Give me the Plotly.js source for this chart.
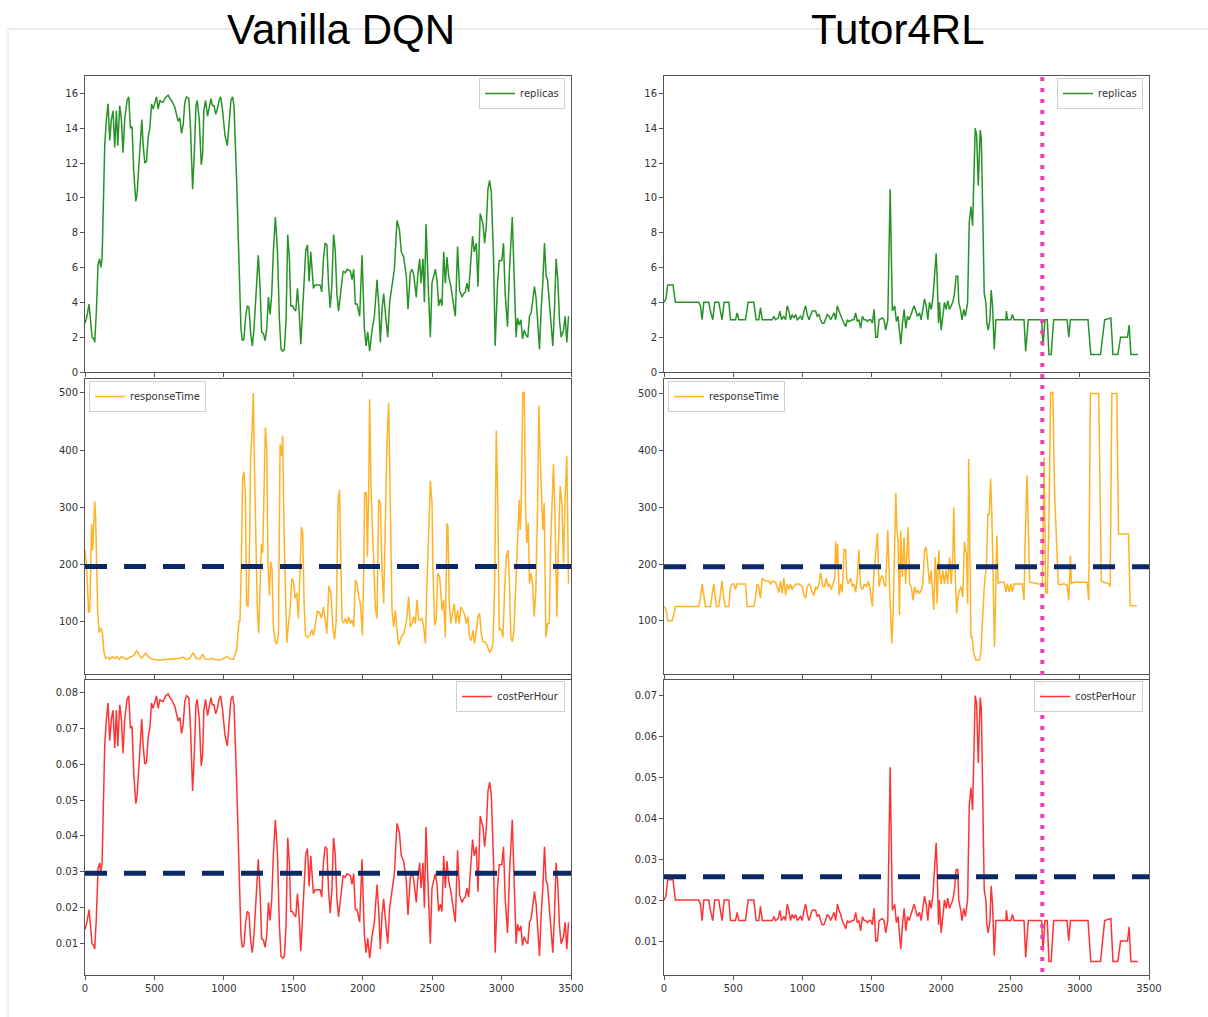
<!DOCTYPE html>
<html><head><meta charset="utf-8">
<script src="https://cdn.plot.ly/plotly-3.0.1.min.js"></script>
<style>html,body{margin:0;padding:0;background:#fff;}#chart{width:1208px;height:1017px;}</style>
</head><body><div id="chart"></div>
<script>
const panelTitles = ["Vanilla DQN", "Tutor4RL"];
const seriesNames = ["replicas", "responseTime", "costPerHour"];
const xTicks = [0,500,1000,1500,2000,2500,3000,3500];
const repTicks = [0,2,4,6,8,10,12,14,16];
const rtTicks = [100,200,300,400,500];
const costTicksLeft = [0.01,0.02,0.03,0.04,0.05,0.06,0.07,0.08];
const costTicksRight = [0.01,0.02,0.03,0.04,0.05,0.06,0.07];
const thresholds = {rtLeft:196, rtRight:195, costLeft:0.0296, costRight:0.0257};
const tutorSwitchStep = 2730;

const leftRepX = [0,14,29,38,51,63,70,82,94,106,
113,123,132,142,154,166,178,190,202,214,
226,236,250,262,274,286,303,315,327,339,
351,366,375,395,409,419,431,443,455,467,
479,491,503,515,527,539,551,563,582,599,
611,623,635,647,659,671,683,695,707,719,
731,748,760,775,787,799,808,823,837,847,
856,868,883,895,907,917,929,941,953,965,
977,991,1008,1025,1039,1051,1063,1073,1092,1109,
1123,1133,1145,1157,1169,1181,1193,1205,1217,1232,
1248,1260,1272,1285,1297,1309,1321,1333,1345,1357,
1371,1386,1400,1412,1424,1436,1448,1460,1472,1482,
1494,1506,1518,1530,1542,1554,1566,1578,1590,1602,
1614,1626,1633,1645,1657,1669,1693,1705,1717,1729,
1742,1754,1766,1778,1790,1802,1814,1826,1859,1875,
1887,1911,1923,1935,1947,1959,1978,1995,2012,2024,
2036,2050,2067,2084,2103,2115,2127,2139,2151,2163,
2180,2194,2211,2228,2247,2264,2278,2295,2314,2326,
2343,2355,2367,2386,2396,2410,2420,2434,2444,2456,
2475,2487,2499,2523,2535,2547,2559,2571,2583,2595,
2607,2619,2635,2650,2667,2683,2698,2715,2727,2739,
2751,2763,2775,2791,2803,2818,2830,2846,2866,2878,
2890,2902,2914,2926,2942,2954,2971,2983,3002,3014,
3026,3043,3057,3077,3093,3105,3115,3127,3139,3151,
3163,3177,3189,3201,3213,3225,3237,3249,3259,3273,
3285,3297,3309,3321,3331,3345,3357,3369,3381,3393,
3405,3417,3429,3446,3458,3470,3482];
const leftRepY = [2.8,3.2,3.9,3.2,2.0,1.9,1.7,3.5,6.2,6.5,
6.0,6.5,9,13,14.5,15.4,13.3,14.5,15.0,12.9,
15.0,13.0,15.3,14.5,12.6,14.5,15.6,15.8,14.0,14.1,
11.5,9.8,10.2,12.5,14.5,13,12.0,12.1,13.5,14.0,
15.4,15.1,15.5,15.8,15.1,15.6,15.5,15.5,15.8,15.9,
15.7,15.6,15.4,15.2,14.8,14.4,14.6,13.7,14.2,15.5,
15.8,15.7,14.0,10.5,12.5,15.3,15.6,14.5,11.9,12.5,
15.0,15.6,14.7,15.2,15.7,15.3,15.3,14.8,15.1,15.6,
15.8,15.0,13.6,13.0,14.4,15.6,15.8,15.3,11,6,
2.5,1.8,1.9,3.2,3.8,3.7,2.2,1.5,2.5,4.5,
6.7,5,2.3,2.2,1.8,2.5,4.3,3.3,4.5,7,
8.9,7,3,1.3,1.2,1.3,3,7.9,6.5,3.8,
3.8,3.6,3.5,4.8,3.5,1.6,3.2,5.5,7.0,7.3,
5.2,6.9,6.0,4.8,5.0,5.0,5.0,4.6,6.5,7.4,
7.3,5,3.7,5,7.9,7,4.5,3.5,5.8,5.7,
5.9,5.8,5.3,5.9,3.9,3.9,3.2,6.7,2.5,1.5,
2.3,1.2,2.4,3.2,5.3,3.9,1.7,3.6,4.5,3.4,
2.0,4.0,4.9,5.9,8.7,8.2,6.9,6.6,5.5,3.6,
5.7,5.9,5.6,4.3,5.5,6.5,5.1,6.5,4.0,8.5,
4.3,2.0,5.1,5.9,5.3,3.8,4.2,3.8,6.9,5.1,
6.6,5.5,4.9,4.0,3.2,7.2,4.7,4.3,4.5,4.6,
5.1,4.6,6.3,7.8,6.9,7.4,4.9,9.1,8.5,7.4,
8.4,10.5,11.0,10.3,6.6,1.5,5.1,6.4,6.4,7.4,
4.5,2.6,5.9,8.9,4.9,2.0,3.1,2.7,3.0,1.9,
2.4,2.1,2.0,3.2,3.4,4.2,4.9,4.2,2.8,1.3,
3.6,5.1,7.4,5.5,5.3,4.0,2.4,1.5,3.6,6.5,
5.3,3.0,2.0,2.4,3.2,1.7,3.2];
const leftCostY = [0.014,0.016,0.0195,0.016,0.01,0.0095,0.0085,0.0175,0.031,0.0325,
0.03,0.0325,0.045,0.065,0.0725,0.077,0.0665,0.0725,0.075,0.0645,
0.075,0.065,0.0765,0.0725,0.063,0.0725,0.078,0.079,0.07,0.0705,
0.0575,0.049,0.051,0.0625,0.0725,0.065,0.06,0.0605,0.0675,0.07,
0.077,0.0755,0.0775,0.079,0.0755,0.078,0.0775,0.0775,0.079,0.0795,
0.0785,0.078,0.077,0.076,0.074,0.072,0.073,0.0685,0.071,0.0775,
0.079,0.0785,0.07,0.0525,0.0625,0.0765,0.078,0.0725,0.0595,0.0625,
0.075,0.078,0.0735,0.076,0.0785,0.0765,0.0765,0.074,0.0755,0.078,
0.079,0.075,0.068,0.065,0.072,0.078,0.079,0.0765,0.055,0.03,
0.0125,0.009,0.0095,0.016,0.019,0.0185,0.011,0.0075,0.0125,0.0225,
0.0335,0.025,0.0115,0.011,0.009,0.0125,0.0215,0.0165,0.0225,0.035,
0.0445,0.035,0.015,0.0065,0.006,0.0065,0.015,0.0395,0.0325,0.019,
0.019,0.018,0.0175,0.024,0.0175,0.008,0.016,0.0275,0.035,0.0365,
0.026,0.0345,0.03,0.024,0.025,0.025,0.025,0.023,0.0325,0.037,
0.0365,0.025,0.0185,0.025,0.0395,0.035,0.0225,0.0175,0.029,0.0285,
0.0295,0.029,0.0265,0.0295,0.0195,0.0195,0.016,0.0335,0.0125,0.0075,
0.0115,0.006,0.012,0.016,0.0265,0.0195,0.0085,0.018,0.0225,0.017,
0.01,0.02,0.0245,0.0295,0.0435,0.041,0.0345,0.033,0.0275,0.018,
0.0285,0.0295,0.028,0.0215,0.0275,0.0325,0.0255,0.0325,0.02,0.0425,
0.0215,0.01,0.0255,0.0295,0.0265,0.019,0.021,0.019,0.0345,0.0255,
0.033,0.0275,0.0245,0.02,0.016,0.036,0.0235,0.0215,0.0225,0.023,
0.0255,0.023,0.0315,0.039,0.0345,0.037,0.0245,0.0455,0.0425,0.037,
0.042,0.0525,0.055,0.0515,0.033,0.0075,0.0255,0.032,0.032,0.037,
0.0225,0.013,0.0295,0.0445,0.0245,0.01,0.0155,0.0135,0.015,0.0095,
0.012,0.0105,0.01,0.016,0.017,0.021,0.0245,0.021,0.014,0.0065,
0.018,0.0255,0.037,0.0275,0.0265,0.02,0.012,0.0075,0.018,0.0325,
0.0265,0.015,0.01,0.012,0.016,0.0085,0.016];

const leftRtX = [0,10,17,26,34,41,48,55,63,70,
77,84,91,101,113,125,137,149,166,178,
197,214,231,245,262,279,298,318,334,351,
370,390,407,423,438,455,479,503,539,587,
635,683,707,731,755,779,799,827,847,864,
888,912,948,984,1020,1044,1068,1092,1109,1116,
1126,1135,1145,1155,1164,1174,1183,1193,1203,1212,
1222,1232,1241,1251,1260,1270,1280,1289,1299,1309,
1318,1328,1337,1347,1357,1369,1381,1393,1405,1414,
1424,1434,1443,1453,1465,1477,1489,1501,1513,1525,
1537,1549,1559,1568,1578,1588,1602,1617,1633,1645,
1660,1674,1689,1703,1717,1730,1742,1756,1770,1785,
1797,1809,1823,1833,
1851,1863,1875,1887,1899,1911,1923,1935,1947,1959,
1971,1983,1998,2007,2014,2026,2034,2043,2050,2060,
2070,2079,2091,2103,2115,2127,2139,2151,2163,2175,
2187,2199,2211,2223,2235,2247,2259,2271,2283,2295,
2307,2319,2331,2343,2355,2367,2379,2391,2403,2415,
2427,2439,2451,2463,2475,2487,2499,2506,2518,2530,
2540,2554,2571,2583,2595,2607,2614,2623,2635,2650,
2659,2671,2683,2695,2707,2719,2731,2746,2758,2770,
2782,2794,2806,2818,2830,2842,2854,2866,2878,2890,
2902,2914,2926,2938,2950,2962,2974,2983,2995,3010,
3022,3034,3046,3057,3067,3077,3089,3103,3115,3127,
3134,3141,3153,3163,3173,3182,3192,3201,3211,3223,
3235,3247,3259,3269,3278,3288,3297,3307,3319,3331,
3343,3355,3364,3374,3386,3398,3410,3422,3434,3446,
3458,3470,3482];
const leftRtY = [225,200,165,115,118,200,270,225,260,310,
280,190,120,80,88,80,45,35,37,33,
38,35,38,33,38,36,33,36,38,40,
48,42,35,40,44,38,34,33,32,33,
34,35,37,33,35,45,35,34,42,34,
33,35,32,33,38,34,33,50,100,100,
200,350,362,320,130,125,200,390,430,500,
350,200,120,80,150,235,220,330,440,400,
200,145,205,190,90,65,60,75,410,390,
425,250,150,62,95,120,175,170,140,150,
105,190,265,255,130,75,72,75,85,75,
100,118,115,105,125,100,78,162,150,90,
68,100,310,330,
102,96,105,96,108,96,102,90,172,166,
143,131,75,190,325,325,213,331,489,331,
254,178,125,105,313,307,190,131,296,413,
483,307,119,90,119,84,58,67,75,78,
90,108,143,90,96,108,96,137,102,102,
105,90,61,166,266,346,307,190,93,102,
184,178,119,137,72,272,266,131,96,114,
131,96,119,96,125,119,114,96,108,72,
66,84,61,84,108,114,78,64,64,61,
52,46,49,61,160,434,290,84,87,72,
155,213,225,166,72,64,84,166,237,313,
260,302,501,501,296,237,272,166,184,166,
108,155,296,478,389,307,260,307,72,96,
96,249,307,375,272,108,237,337,307,202,
319,389,166];

const rightRepX = [0,14,27,65,82,251,263,275,287,323,
335,352,366,395,407,419,434,468,480,516,
528,540,588,607,648,665,684,696,709,733,
781,793,805,824,836,848,865,877,889,901,
913,925,937,950,962,986,998,1010,1022,1034,
1046,1070,1094,1106,1118,1130,1142,1154,1166,1178,
1191,1203,1215,1227,1239,1251,1263,1275,1287,1299,
1311,1323,1335,1359,1371,1383,1395,1407,1419,1432,
1444,1456,1468,1480,1492,1504,1516,1528,1540,1552,
1576,1588,1600,1615,1632,1648,1665,1677,1689,1697,
1709,1721,1733,1745,1757,1769,1788,1805,1817,1829,
1844,1856,1868,1880,1892,1904,1916,1928,1940,1952,
1964,1971,1981,1988,2000,2012,2024,2036,2048,2060,
2072,2084,2096,2108,2120,2127,2139,2151,2163,2175,
2191,2203,2215,2227,2246,2256,2268,2282,2290,2299,
2311,2323,2330,2340,2352,2361,2371,2383,2395,2467,
2471,2479,2503,2514,2526,2598,2610,2629,2725,2735,
2749,2766,2778,2794,2812,2909,2921,2933,3060,3080,
3150,3180,3225,3240,3275,3295,3345,3357,3369,3420];
const rightRepY = [4,4.2,5,5,4,4,3.8,3,4,4,
3.5,3,4,4,3.5,3,4,4,3,3,
3.4,3,3,4,4,3,3,3.7,3,3,
3,3.2,3,3.1,3.5,3,3.2,3,3.8,3.5,
3,3.3,3.1,3.3,3,3.2,3,3.5,3.8,3.3,
3,3.5,3.5,3.2,3.3,3,2.8,2.8,3,3.3,
3.2,3,3.2,3.4,3,3.8,3.5,3.3,3,2.8,
2.6,3,2.9,3,3,3.4,2.9,3,2.5,3.2,
3,3,2.9,3,3,2.8,3.6,2,2,3,
3.1,3,2.4,3,10.5,3.5,3.8,2.9,3.2,2.5,
1.6,2.8,3.6,2.5,3.2,3,3.4,3.8,3.5,3.2,
3.4,3,3.6,4.2,3.8,3,4,3.6,4.2,5.5,
6.8,5.5,2.8,4,2.4,3.2,4,3.6,4.1,3.6,
3.8,4,4.5,5.5,5.5,4,3.6,3,3.6,3.2,
4,8.6,9.5,8.4,14,13.6,10.7,13.9,13.4,8.8,
4.5,4,2.8,2.4,3,4.7,3.8,1.3,3,3,
3.5,3,3,3.3,3,3,1.2,3,3,1.5,
3,3,1,1,3,3,2,3,3,1,
1,3,3.1,1,1,2,2,2.7,1,1];
const rightCostY = [0.02,0.021,0.025,0.025,0.02,0.02,0.019,0.015,0.02,0.02,
0.0175,0.015,0.02,0.02,0.0175,0.015,0.02,0.02,0.015,0.015,
0.017,0.015,0.015,0.02,0.02,0.015,0.015,0.0185,0.015,0.015,
0.015,0.016,0.015,0.0155,0.0175,0.015,0.016,0.015,0.019,0.0175,
0.015,0.0165,0.0155,0.0165,0.015,0.016,0.015,0.0175,0.019,0.0165,
0.015,0.0175,0.0175,0.016,0.0165,0.015,0.014,0.014,0.015,0.0165,
0.016,0.015,0.016,0.017,0.015,0.019,0.0175,0.0165,0.015,0.014,
0.013,0.015,0.0145,0.015,0.015,0.017,0.0145,0.015,0.0125,0.016,
0.015,0.015,0.0145,0.015,0.015,0.014,0.018,0.01,0.01,0.015,
0.0155,0.015,0.012,0.015,0.0525,0.0175,0.019,0.0145,0.016,0.0125,
0.008,0.014,0.018,0.0125,0.016,0.015,0.017,0.019,0.0175,0.016,
0.017,0.015,0.018,0.021,0.019,0.015,0.02,0.018,0.021,0.0275,
0.034,0.0275,0.014,0.02,0.012,0.016,0.02,0.018,0.0205,0.018,
0.019,0.02,0.0225,0.0275,0.0275,0.02,0.018,0.015,0.018,0.016,
0.02,0.043,0.0475,0.042,0.07,0.068,0.0535,0.0695,0.067,0.044,
0.0225,0.02,0.014,0.012,0.015,0.0235,0.019,0.0065,0.015,0.015,
0.0175,0.015,0.015,0.0165,0.015,0.015,0.006,0.015,0.015,0.0075,
0.015,0.015,0.005,0.005,0.015,0.015,0.01,0.015,0.015,0.005,
0.005,0.015,0.0155,0.005,0.005,0.01,0.01,0.0135,0.005,0.005];

const rightRtX = [0,14,27,58,70,82,251,263,275,287,
299,335,347,359,371,378,395,407,419,431,
443,468,480,492,504,516,528,588,600,648,
660,672,684,696,709,733,757,769,781,805,
817,829,841,853,865,877,889,901,913,925,
937,950,974,998,1010,1022,1034,1046,1058,1070,
1082,1094,1106,1118,1130,1138,1147,1159,1171,1186,
1195,1207,1219,1232,1239,1246,1253,1263,1275,1287,
1299,1311,1318,1330,1347,1359,1371,1383,1395,1407,
1419,1432,1448,1463,1475,1487,1504,1516,1528,1540,
1552,1564,1576,1588,1600,1615,1629,1644,1653,1663,
1673,1680,1689,1699,
1708,1720,1732,1744,1761,1773,1785,1797,1809,1821,
1832,1844,1856,1868,1880,1892,1904,1916,1928,1940,
1947,1957,1964,1971,1983,1993,2000,2012,2024,2036,
2048,2060,2072,2084,2091,2101,2112,2122,2132,2144,
2156,2168,2175,2184,2191,2199,2208,2215,2223,2235,
2251,2275,2287,2299,2311,2328,2337,2347,2357,2366,
2376,2385,2395,2402,2412,2419,2455,2467,2479,2491,
2503,2514,2526,2586,2598,2605,2620,2629,2639,2706,
2730,2744,2754,2766,2778,2790,2806,2818,2830,2845,
2861,2885,2909,2921,2933,2940,2957,3053,3065,3077,
3137,3156,3173,3210,3220,3232,3268,3280,3352,3364,
3412];
const rightRtY = [125,120,100,100,110,125,125,140,165,140,
125,125,145,165,140,125,125,150,170,140,
125,125,160,165,165,155,165,165,125,125,
140,165,160,140,175,170,170,165,170,168,
160,150,170,148,175,145,165,155,165,155,
160,165,165,160,145,140,160,165,160,150,
145,160,155,165,185,170,160,160,175,160,
165,155,165,175,240,200,235,145,165,150,
225,225,175,165,175,160,165,150,175,225,
160,155,165,160,170,155,125,190,220,255,
160,175,180,165,160,260,150,60,110,250,
325,265,240,110,
259,177,247,165,265,165,160,136,160,148,
154,148,154,165,224,230,201,165,189,130,
119,212,189,130,224,177,165,189,165,189,
165,212,165,212,300,189,113,142,154,160,
142,239,224,218,130,385,224,72,72,43,
31,31,43,95,160,201,288,288,350,288,
183,54,165,250,165,168,168,151,165,151,
165,151,165,165,136,230,356,265,168,165,
163,388,150,148,280,502,502,330,247,165,
163,165,163,136,215,165,168,168,136,500,
500,170,168,165,160,500,500,253,253,127,
126];

const W = 1208, H = 1017;
const fx = p => p / W;
const fy = p => 1 - p / H;
const colL = [fx(85), fx(571)], colR = [fx(664), fx(1149)];
const rowT = [fy(372), fy(76)], rowM = [fy(674), fy(379)], rowB = [fy(975), fy(680)];
const tickFont = {family: "DejaVu Sans, sans-serif", size: 10, color: "#333"};
const frame = {showline: true, mirror: true, linecolor: "#555", linewidth: 1, showgrid: false, zeroline: false,
  ticks: "outside", ticklen: 4, tickwidth: 1, tickcolor: "#555", tickfont: tickFont, fixedrange: true};
function xa(domain, anchor, labels) {
  return Object.assign({}, frame, {domain, anchor, range: [0, 3500], tickmode: "array", tickvals: xTicks,
    ticktext: xTicks.map(String), showticklabels: labels});
}
function ya(domain, anchor, range, ticks, fmt) {
  return Object.assign({}, frame, {domain, anchor, range, tickmode: "array", tickvals: ticks,
    ticktext: ticks.map(v => fmt ? v.toFixed(2) : String(v))});
}
const green = "rgba(0,128,0,0.85)", orange = "rgba(255,165,0,0.85)", red = "rgba(255,0,0,0.8)";
function tr(x, y, xa_, ya_, color, name, leg) {
  return {type: "scatter", mode: "lines", x, y, xaxis: xa_, yaxis: ya_, name, legend: leg,
    line: {color, width: 1.5}, hoverinfo: "skip"};
}
const data = [
  tr(leftRepX, leftRepY, "x", "y", green, seriesNames[0], "legend"),
  tr(leftRtX, leftRtY, "x2", "y2", orange, seriesNames[1], "legend2"),
  tr(leftRepX, leftCostY, "x3", "y3", red, seriesNames[2], "legend3"),
  tr(rightRepX, rightRepY, "x4", "y4", green, seriesNames[0], "legend4"),
  tr(rightRtX, rightRtY, "x5", "y5", orange, seriesNames[1], "legend5"),
  tr(rightRepX, rightCostY, "x6", "y6", red, seriesNames[2], "legend6")
];
const legBase = {bgcolor: "rgba(255,255,255,0.9)", bordercolor: "#d0d0d0", borderwidth: 1,
  font: {family: "DejaVu Sans, sans-serif", size: 10, color: "#333"}, itemwidth: 30, yanchor: "top",
  tracegroupgap: 0};
const leg = (x, y, anchor) => Object.assign({}, legBase, {x: fx(x), y: fy(y), xanchor: anchor});
const navy = "#0b2866";
const dashLine = (xr, yr, yv) => ({type: "line", xref: xr + " domain", yref: yr, x0: 0, x1: 1, y0: yv, y1: yv,
  line: {color: navy, width: 5, dash: "22px,17px"}});
const layout = {
  width: W, height: H, margin: {l: 0, r: 0, t: 0, b: 0}, paper_bgcolor: "#fff", plot_bgcolor: "#fff",
  showlegend: true,
  xaxis: xa(colL, "y", false), yaxis: ya(rowT, "x", [0, 17], repTicks),
  xaxis2: xa(colL, "y2", false), yaxis2: ya(rowM, "x2", [7.5, 524.5], rtTicks),
  xaxis3: xa(colL, "y3", true), yaxis3: ya(rowB, "x3", [0.0013, 0.0834], costTicksLeft, true),
  xaxis4: xa(colR, "y4", false), yaxis4: ya(rowT, "x4", [0, 17], repTicks),
  xaxis5: xa(colR, "y5", false), yaxis5: ya(rowM, "x5", [6.4, 525.6], rtTicks),
  xaxis6: xa(colR, "y6", true), yaxis6: ya(rowB, "x6", [0.0017, 0.0738], costTicksRight, true),
  legend: leg(565, 78, "right"), legend2: leg(89, 381, "left"), legend3: leg(565, 681, "right"),
  legend4: leg(1143, 78, "right"), legend5: leg(668, 381, "left"), legend6: leg(1143, 681, "right"),
  shapes: [
    {type: "line", xref: "paper", yref: "paper", x0: fx(8), x1: 1, y0: fy(29), y1: fy(29), layer: "below",
      line: {color: "#d8d8d8", width: 1}},
    {type: "line", xref: "paper", yref: "paper", x0: fx(8), x1: fx(8), y0: fy(29), y1: 0, layer: "below",
      line: {color: "#e2e2e2", width: 1}},
    dashLine("x2", "y2", thresholds.rtLeft),
    dashLine("x3", "y3", thresholds.costLeft),
    dashLine("x5", "y5", thresholds.rtRight),
    dashLine("x6", "y6", thresholds.costRight),
    {type: "line", xref: "x4", yref: "paper", x0: tutorSwitchStep, x1: tutorSwitchStep, y0: fy(972), y1: fy(76),
      line: {color: "#f43fb2", width: 4, dash: "4px,7px"}}
  ],
  annotations: [
    {text: panelTitles[0], xref: "paper", yref: "paper", x: fx(341), y: fy(30), xanchor: "center", yanchor: "middle",
      showarrow: false, font: {family: "Liberation Sans, Arial, sans-serif", size: 42, color: "#000"}},
    {text: panelTitles[1], xref: "paper", yref: "paper", x: fx(898), y: fy(30), xanchor: "center", yanchor: "middle",
      showarrow: false, font: {family: "Liberation Sans, Arial, sans-serif", size: 42, color: "#000"}}
  ]
};
Plotly.newPlot("chart", data, layout, {staticPlot: true, displayModeBar: false});
</script></body></html>
